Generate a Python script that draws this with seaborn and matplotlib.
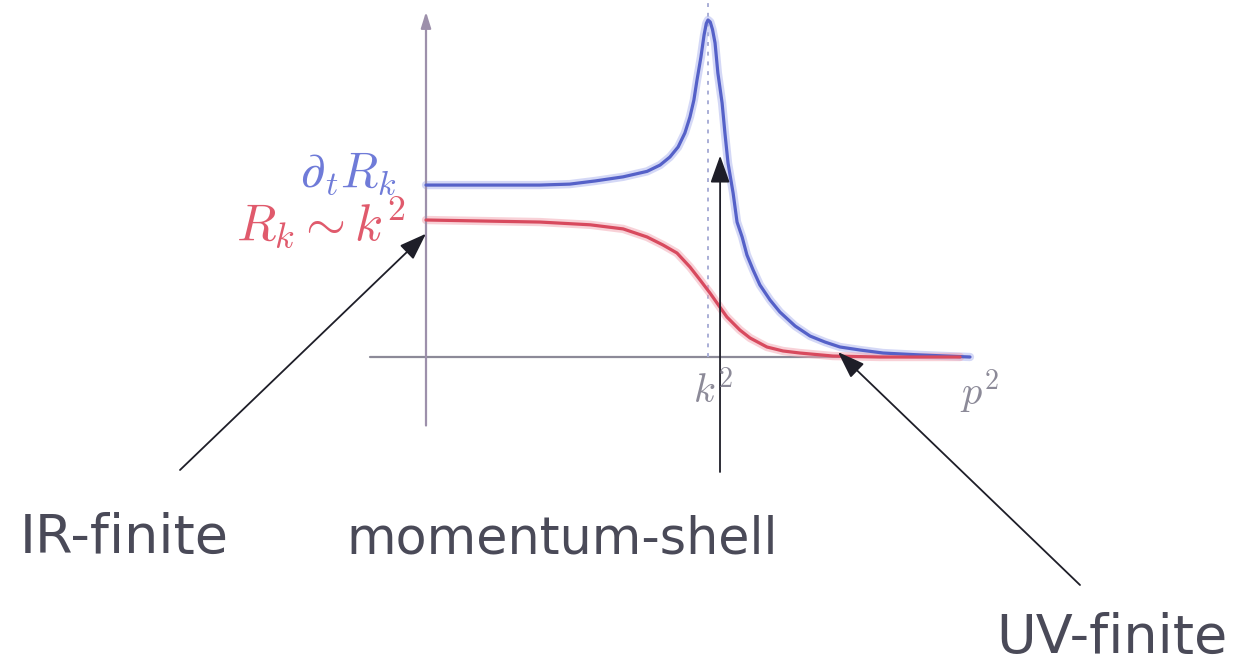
import matplotlib
matplotlib.use("Agg")
import matplotlib.pyplot as plt
import seaborn as sns
import pandas as pd

# Regulator sketch: p^2 in units of k^2, regulator values in units of k^2
p2_flow = [0.0, 0.404, 0.51, 0.60, 0.699, 0.784, 0.830, 0.865, 0.894, 0.918,
           0.936, 0.950, 0.961, 0.975, 0.986, 0.994, 1.0, 1.008, 1.016,
           1.025, 1.035, 1.050, 1.060, 1.071, 1.089, 1.103, 1.121, 1.138,
           1.160, 1.184, 1.220, 1.255, 1.309, 1.362, 1.415, 1.468, 1.539,
           1.621, 1.752, 1.929]
flow = [1.255, 1.255, 1.262, 1.285, 1.315, 1.355, 1.401, 1.460, 1.533, 1.635,
        1.752, 1.876, 2.022, 2.190, 2.350, 2.435, 2.460, 2.445, 2.390,
        2.292, 2.073, 1.854, 1.635, 1.416, 1.197, 0.985, 0.876, 0.745,
        0.635, 0.526, 0.416, 0.328, 0.226, 0.153, 0.109, 0.073, 0.051,
        0.029, 0.015, 0.0]

p2_reg = [0.0, 0.404, 0.582, 0.699, 0.784, 0.840, 0.890, 0.936, 0.972,
          1.007, 1.032, 1.067, 1.113, 1.149, 1.209, 1.266, 1.326, 1.443,
          1.610, 1.894]
reg = [1.0, 0.985, 0.965, 0.935, 0.876, 0.818, 0.759, 0.657, 0.562,
       0.467, 0.394, 0.292, 0.197, 0.139, 0.073, 0.044, 0.029, 0.007,
       0.0, 0.0]

k2 = 1.0
labels = ["IR-finite", "momentum-shell", "UV-finite"]

W, H = 1247, 668
sns.set_theme(style="white")
plt.rcParams["mathtext.fontset"] = "cm"
plt.rcParams["font.family"] = ["DejaVu Sans"]

fig = plt.figure(figsize=(W / 100, H / 100), dpi=100)
ax = fig.add_axes([0, 0, 1, 1])

blue = "#5561c8"
red = "#d84a5e"
axis_col = "#8c8a98"

# axes of the sketch
ax.plot([-0.2, 1.93], [0, 0], color=axis_col, lw=1.6, zorder=1)
ax.annotate("", xy=(0, 2.52), xytext=(0, -0.5),
            arrowprops=dict(arrowstyle="-|>,head_length=0.8,head_width=0.25",
                            color="#9d90ab", lw=1.6, shrinkA=0, shrinkB=0))
ax.plot([k2, k2], [0, 2.62], color="#a9aed6", lw=1.4, ls=(0, (2, 3)), zorder=1)

df_flow = pd.DataFrame({"p2": p2_flow, "v": flow})
df_reg = pd.DataFrame({"p2": p2_reg, "v": reg})
# soft halo under each curve
sns.lineplot(data=df_flow, x="p2", y="v", ax=ax, color="#aab2ee", lw=6,
             alpha=0.5, sort=False, zorder=2)
sns.lineplot(data=df_reg, x="p2", y="v", ax=ax, color="#f2a4b0", lw=6,
             alpha=0.5, sort=False, zorder=2)
sns.lineplot(data=df_flow, x="p2", y="v", ax=ax, color=blue, lw=2.3,
             sort=False, zorder=3)
sns.lineplot(data=df_reg, x="p2", y="v", ax=ax, color=red, lw=2.3,
             sort=False, zorder=3)
ax.set_xlim(-426 / 282, (W - 426) / 282)
ax.set_ylim((357 - H) / 137, 357 / 137)
ax.axis("off")


def fx(px):
    return px / W


def fy(py):
    return 1 - py / H


# curve labels
fig.text(fx(396), fy(187), r"$\partial_t R_k$", color="#6f7bd8",
         fontsize=35, ha="right", va="baseline")
fig.text(fx(406), fy(240), r"$R_k \sim k^2$", color="#e05a6c",
         fontsize=37, ha="right", va="baseline")
fig.text(fx(713), fy(403), r"$k^2$", color=axis_col, fontsize=29,
         ha="center", va="baseline")
fig.text(fx(979), fy(405), r"$p^2$", color=axis_col, fontsize=29,
         ha="center", va="baseline")

arrow = dict(arrowstyle="-|>,head_length=1.4,head_width=0.5", color="#1e1e28",
             lw=1.3, shrinkA=0, shrinkB=0)
ax.annotate("", xy=(0, 0.9), xytext=(fx(180), fy(470)),
            textcoords="figure fraction", arrowprops=arrow)
ax.annotate("", xy=(1.043, 1.47), xytext=(fx(720), fy(472)),
            textcoords="figure fraction", arrowprops=arrow)
ax.annotate("", xy=(1.461, 0.036), xytext=(fx(1080), fy(585)),
            textcoords="figure fraction", arrowprops=arrow)

text_col = "#4a4a58"
fig.text(fx(20), fy(553), labels[0], fontsize=39, color=text_col,
         ha="left", va="baseline")
fig.text(fx(562), fy(553), labels[1], fontsize=36.5, color=text_col,
         ha="center", va="baseline")
fig.text(fx(1112), fy(653), labels[2], fontsize=39, color=text_col,
         ha="center", va="baseline")

fig.savefig("out.png", dpi=100, facecolor="white")
